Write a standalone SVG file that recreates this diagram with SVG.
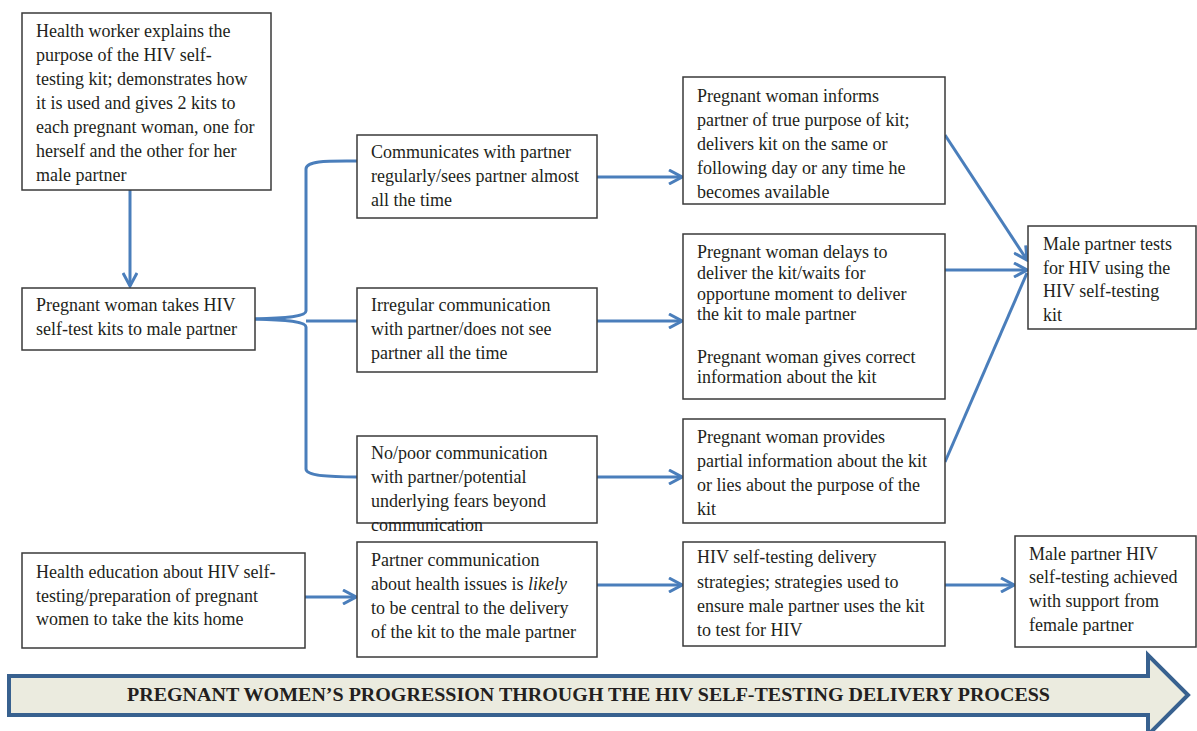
<svg xmlns="http://www.w3.org/2000/svg" width="1197" height="731" viewBox="0 0 1197 731">
<defs>
<style>
.box{fill:#fff;stroke:#3a3a3a;stroke-width:1.5}
.t{font-family:"Liberation Serif","Times New Roman",serif;font-size:18px;fill:#231f20}
.c{fill:none;stroke:#4a7ebb;stroke-width:3}
.title{font-family:"Liberation Serif","Times New Roman",serif;font-size:18px;font-weight:bold;fill:#231f20}
</style>
<marker id="ah" markerUnits="userSpaceOnUse" viewBox="0 0 16 16" markerWidth="16" markerHeight="16" refX="14" refY="8" orient="auto">
<path d="M1,1 L14,8 L1,15" fill="none" stroke="#4a7ebb" stroke-width="3"/>
</marker>
</defs>
<rect width="1197" height="731" fill="#fff"/>

<g id="connectors">
<path class="c" d="M130,190 L130,286" marker-end="url(#ah)"/>
<path class="c" d="M357,161 C330,161 306,160 306,169 L306,311 C306,316 290,318 255,319"/>
<path class="c" d="M255,319 C290,320 306,322 306,327 L306,469 C306,476 330,477 357,477"/>
<path class="c" d="M306,321 L357,321"/>
<path class="c" d="M597,177 L682,177" marker-end="url(#ah)"/>
<path class="c" d="M597,321 L682,321" marker-end="url(#ah)"/>
<path class="c" d="M597,477 L682,477" marker-end="url(#ah)"/>
<path class="c" d="M945,135 L1027,260" marker-end="url(#ah)"/>
<path class="c" d="M945,270 L1027,270" marker-end="url(#ah)"/>
<path class="c" d="M945,462 L1027,273"/>
<path class="c" d="M305,597 L356,597" marker-end="url(#ah)"/>
<path class="c" d="M597,585 L682,585" marker-end="url(#ah)"/>
<path class="c" d="M945,585 L1014,585" marker-end="url(#ah)"/>
</g>

<g id="n1">
<rect class="box" x="22" y="13" width="249" height="177"/>
<text class="t"><tspan x="36" y="37">Health worker explains the</tspan><tspan x="36" y="61">purpose of the HIV self-</tspan><tspan x="36" y="85">testing kit; demonstrates how</tspan><tspan x="36" y="109">it is used and gives 2 kits to</tspan><tspan x="36" y="133">each pregnant woman, one for</tspan><tspan x="36" y="157">herself and the other for her</tspan><tspan x="36" y="181">male partner</tspan></text>
</g>

<g id="n2">
<rect class="box" x="22" y="288" width="233" height="62"/>
<text class="t"><tspan x="36" y="311">Pregnant woman takes HIV</tspan><tspan x="36" y="335">self-test kits to male partner</tspan></text>
</g>

<g id="c1">
<rect class="box" x="357" y="135" width="240" height="83"/>
<text class="t"><tspan x="371" y="158">Communicates with partner</tspan><tspan x="371" y="182">regularly/sees partner almost</tspan><tspan x="371" y="206">all the time</tspan></text>
</g>

<g id="c2">
<rect class="box" x="357" y="288" width="240" height="84"/>
<text class="t"><tspan x="371" y="311">Irregular communication</tspan><tspan x="371" y="335">with partner/does not see</tspan><tspan x="371" y="359">partner all the time</tspan></text>
</g>

<g id="c3">
<rect class="box" x="357" y="436" width="240" height="87"/>
<text class="t"><tspan x="371" y="459">No/poor communication</tspan><tspan x="371" y="483">with partner/potential</tspan><tspan x="371" y="507">underlying fears beyond</tspan><tspan x="371" y="531">communication</tspan></text>
</g>

<g id="d1">
<rect class="box" x="683" y="77" width="262" height="127"/>
<text class="t"><tspan x="697" y="102">Pregnant woman informs</tspan><tspan x="697" y="126">partner of true purpose of kit;</tspan><tspan x="697" y="150">delivers kit on the same or</tspan><tspan x="697" y="174">following day or any time he</tspan><tspan x="697" y="198">becomes available</tspan></text>
</g>

<g id="d2">
<rect class="box" x="683" y="234" width="262" height="165"/>
<text class="t"><tspan x="697" y="258">Pregnant woman delays to</tspan><tspan x="697" y="279">deliver the kit/waits for</tspan><tspan x="697" y="300">opportune moment to deliver</tspan><tspan x="697" y="320">the kit to male partner</tspan><tspan x="697" y="363">Pregnant woman gives correct</tspan><tspan x="697" y="383">information about the kit</tspan></text>
</g>

<g id="d3">
<rect class="box" x="683" y="419" width="262" height="104"/>
<text class="t"><tspan x="697" y="443">Pregnant woman provides</tspan><tspan x="697" y="467">partial information about the kit</tspan><tspan x="697" y="491">or lies about the purpose of the</tspan><tspan x="697" y="515">kit</tspan></text>
</g>

<g id="e1">
<rect class="box" x="1028" y="226" width="168" height="103"/>
<text class="t"><tspan x="1043" y="250">Male partner tests</tspan><tspan x="1043" y="274">for HIV using the</tspan><tspan x="1043" y="297">HIV self-testing</tspan><tspan x="1043" y="321">kit</tspan></text>
</g>

<g id="f1">
<rect class="box" x="22" y="553" width="283" height="95"/>
<text class="t"><tspan x="36" y="578">Health education about HIV self-</tspan><tspan x="36" y="602">testing/preparation of pregnant</tspan><tspan x="36" y="625">women to take the kits home</tspan></text>
</g>

<g id="f2">
<rect class="box" x="357" y="542" width="240" height="115"/>
<text class="t"><tspan x="371" y="566">Partner communication</tspan><tspan x="371" y="590">about health issues is <tspan font-style="italic">likely</tspan></tspan><tspan x="371" y="614">to be central to the delivery</tspan><tspan x="371" y="638">of the kit to the male partner</tspan></text>
</g>

<g id="f3">
<rect class="box" x="683" y="542" width="262" height="104"/>
<text class="t"><tspan x="697" y="563">HIV self-testing delivery</tspan><tspan x="697" y="588">strategies; strategies used to</tspan><tspan x="697" y="612">ensure male partner uses the kit</tspan><tspan x="697" y="636">to test for HIV</tspan></text>
</g>

<g id="f4">
<rect class="box" x="1015" y="536" width="181" height="111"/>
<text class="t"><tspan x="1029" y="560">Male partner HIV</tspan><tspan x="1029" y="583">self-testing achieved</tspan><tspan x="1029" y="607">with support from</tspan><tspan x="1029" y="631">female partner</tspan></text>
</g>

<g id="progress">
<polygon points="9,676 1148,676 1148,655 1188,695 1148,735 1148,715 9,715" fill="#ebebdf" stroke="#38618f" stroke-width="4" stroke-linejoin="miter"/>
<text class="title" x="127" y="701" textLength="923" lengthAdjust="spacingAndGlyphs">PREGNANT WOMEN’S PROGRESSION THROUGH THE HIV SELF-TESTING DELIVERY PROCESS</text>
</g>
</svg>
